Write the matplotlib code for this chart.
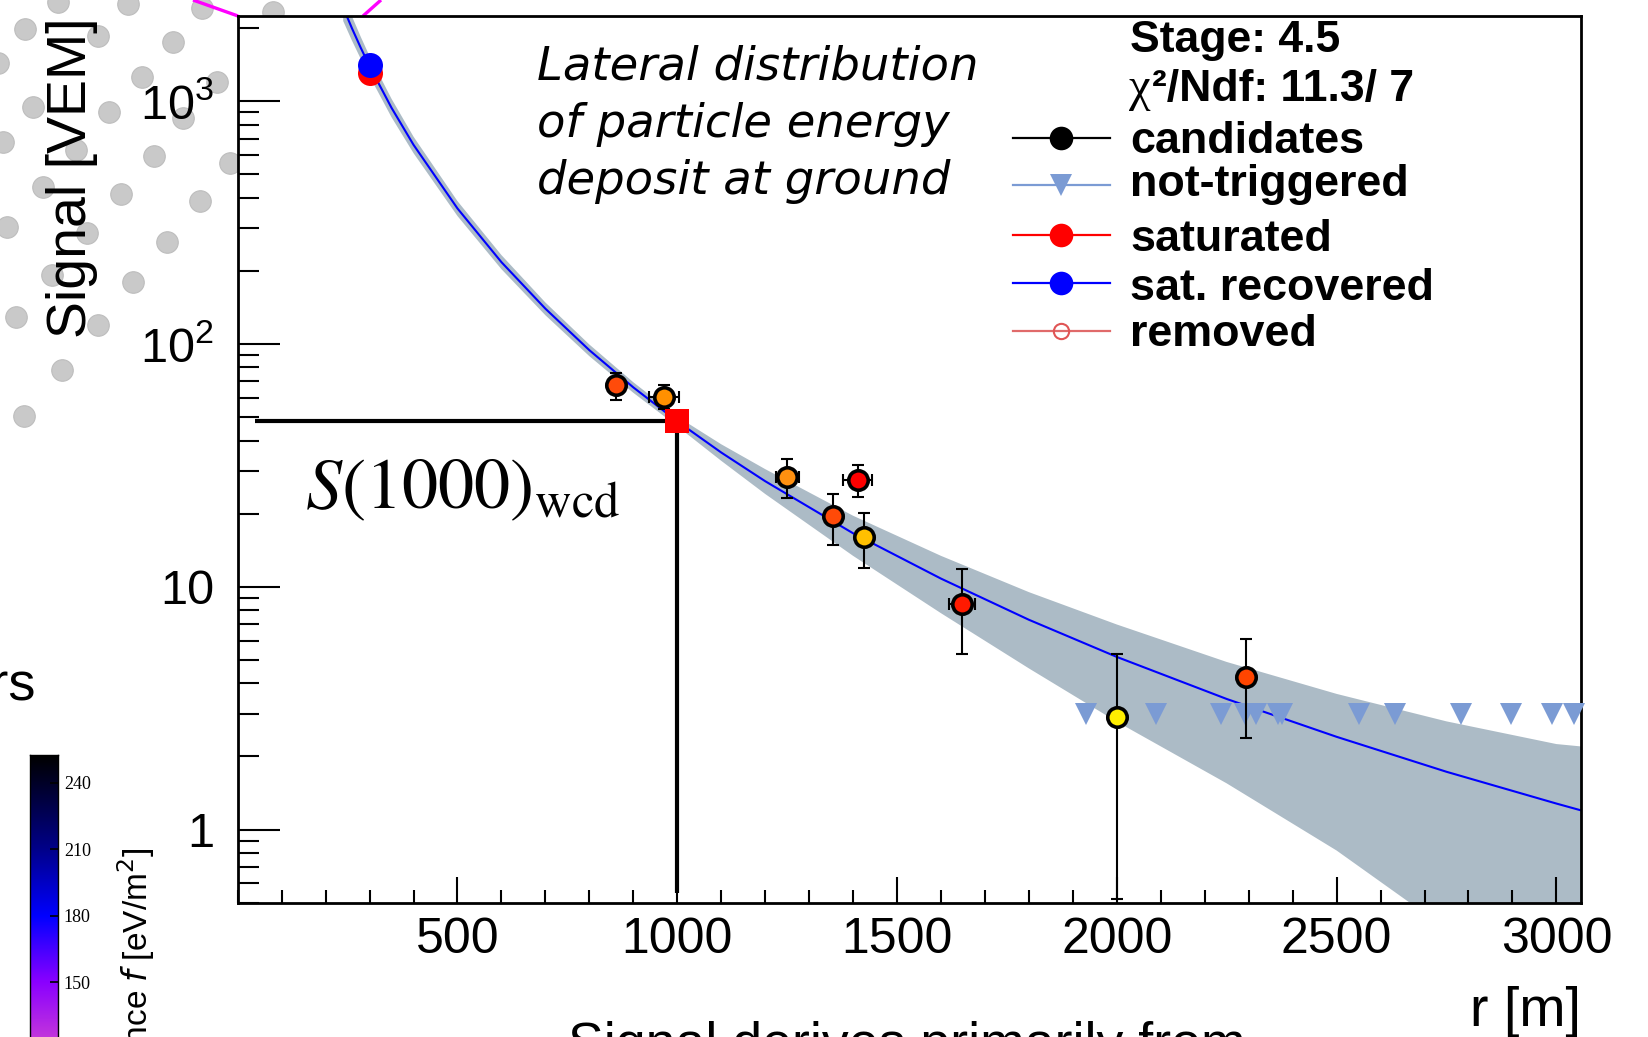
import numpy as np
import matplotlib
matplotlib.use('Agg')
import matplotlib.pyplot as plt
from matplotlib.colors import LinearSegmentedColormap
from matplotlib.lines import Line2D
from matplotlib.ticker import FixedLocator, MultipleLocator, LogLocator, NullFormatter

plt.rcParams['font.family'] = ['Liberation Sans', 'DejaVu Sans']

# ---------------- data ----------------
# fitted lateral distribution function and its uncertainty band
fit_r = [240, 260, 280, 300, 350, 400, 500, 600, 700, 800, 900, 1000, 1100, 1200,
         1400, 1600, 1800, 2000, 2250, 2500, 2750, 3000, 3056]
fit_s = [2424, 1991, 1655, 1391, 937, 660, 361, 217, 139.6, 94.2, 66.2, 48.0, 35.7, 27.2,
         16.6, 10.8, 7.31, 5.14, 3.45, 2.41, 1.73, 1.28, 1.20]
band_hi = [2740, 2230, 1837, 1530, 1021, 713, 387, 232, 148.0, 99.4, 69.5, 50.2, 38.6, 30.5,
           19.6, 13.4, 9.5, 6.99, 4.90, 3.62, 2.79, 2.25, 2.20]
band_lo = [2135, 1772, 1490, 1266, 857, 610, 336, 203, 131.2, 89.0, 62.9, 45.8, 33.0, 24.1,
           13.4, 7.78, 4.61, 2.78, 1.55, 0.82, 0.39, 0.16, 0.12]

# candidate stations
cand_r = [860, 969, 1250, 1411, 1354, 1424, 1648, 2000, 2293]
cand_s = [67.4, 60.7, 28.3, 27.4, 19.5, 16.0, 8.52, 2.91, 4.26]
cand_s_hi = [76.0, 67.6, 33.6, 31.6, 24.0, 20.1, 11.8, 5.27, 6.12]
cand_s_lo = [58.5, 54.0, 23.3, 23.4, 14.9, 11.9, 5.27, 0.52, 2.39]
cand_r_err = [0, 34, 26, 33, 0, 0, 30, 0, 0]
cand_colors = ['#ff4b0a', '#ff9000', '#ff9010', '#ff0000', '#ff4a08', '#ffc000',
               '#ff1a00', '#ffee00', '#ff4500']

# non-triggered stations
nt_r = [1930, 2089, 2237, 2292, 2316, 2367, 2376, 2552, 2633, 2783, 2897, 2989, 3041]
nt_s = [3.0] * len(nt_r)

# saturated / recovered station
sat_r = [300]
sat_s = [1310]
rec_r = [300]
rec_s = [1406]

# S(1000)
s1000_r = 1000
s1000_s = 48.0
s1000_line_start = 40
s1000_line_end = 0.55

x_ticks = [500, 1000, 1500, 2000, 2500, 3000]
y_ticks = [1, 10, 100, 1000]
y_ticklabels = ['1', '10', r'$\mathregular{10^{2}}$', r'$\mathregular{10^{3}}$']

legend_labels = ['candidates', 'not-triggered', 'saturated', 'sat. recovered', 'removed']

# neighbouring panel elements (figure pixel coordinates)
dot_x = [58, 128, 202, 273, 25, 98, 173, -2, 142, 217, 33, 109, 183, 3, 76, 154, 230,
         43, 121, 200, 7, 87, 167, 52, 133, 16, 98, 62, 24]
dot_y = [2, 4, 8, 12, 29, 36, 42, 63, 77, 82, 107, 112, 118, 142, 150, 156, 163,
         187, 194, 201, 227, 233, 242, 275, 282, 317, 325, 370, 416]
mag_seg1_x = [193, 238]
mag_seg1_y = [0, 16]
mag_seg2_x = [363, 381]
mag_seg2_y = [16, 0]
cbar_ticks = [150, 180, 210, 240]
cbar_range = [96.9, 252.5]

# ---------------- figure ----------------
W, H = 1649, 1037
fig = plt.figure(figsize=(W / 100, H / 100), dpi=100)


def fx(px):
    return px / W


def fy(py):
    return 1 - py / H


# background layer
bg = fig.add_axes([0, 0, 1, 1], zorder=0)
bg.set_xlim(0, W)
bg.set_ylim(H, 0)
bg.axis('off')
bg.scatter(dot_x, dot_y, s=15.5 ** 2, color='#c9c9c9', edgecolors='#bdbdbd', linewidths=0.8)
bg.plot(mag_seg1_x, mag_seg1_y, color='#ff00ff', lw=2.4, solid_capstyle='butt')
bg.plot(mag_seg2_x, mag_seg2_y, color='#ff00ff', lw=2.4, solid_capstyle='butt')

# main axes
ax_l, ax_r, ax_t, ax_b = 237.7, 1581.0, 15.7, 902.7
ax = fig.add_axes([fx(ax_l), fy(ax_b), (ax_r - ax_l) / W, (ax_b - ax_t) / H], zorder=1)
ax.set_facecolor('white')
ax.set_yscale('log')
ax.set_xlim(0, 3056)
ax.set_ylim(0.5, 2245)

ax.fill_between(fit_r, band_lo, band_hi, color='#acbbc6', lw=0, zorder=1)
ax.plot(fit_r, fit_s, color='#0000ff', lw=1.5, zorder=2)

# S(1000) lines
ax.plot([s1000_line_start, s1000_r], [s1000_s, s1000_s], color='black', lw=3.0, zorder=3,
        solid_capstyle='butt')
ax.plot([s1000_r, s1000_r], [s1000_s, s1000_line_end], color='black', lw=3.0, zorder=3,
        solid_capstyle='butt')
ax.plot([s1000_r], [s1000_s], 's', color='#ff0000', ms=17, mew=0, zorder=6)

# not-triggered
ax.plot(nt_r, nt_s, 'v', color='#7b9bd4', ms=16, mew=0, ls='none', zorder=4, clip_on=False)

# candidates with errors
yerr = [np.array(cand_s) - np.array(cand_s_lo), np.array(cand_s_hi) - np.array(cand_s)]
ax.errorbar(cand_r, cand_s, yerr=yerr, xerr=cand_r_err, fmt='none', ecolor='black',
            elinewidth=1.5, capsize=4, capthick=1.5, zorder=4)
for r, s, c in zip(cand_r, cand_s, cand_colors):
    ax.plot([r], [s], 'o', mfc=c, mec='black', ms=14, mew=2.6, zorder=5)

# saturated and recovered
ax.plot(sat_r, sat_s, 'o', color='#ff0000', ms=18, mew=0, zorder=5)
ax.plot(rec_r, rec_s, 'o', color='#0000ff', ms=18, mew=0, zorder=5)

# axes styling
for sp in ax.spines.values():
    sp.set_linewidth(2.0)
ax.xaxis.set_major_locator(FixedLocator(x_ticks))
ax.xaxis.set_minor_locator(MultipleLocator(100))
ax.yaxis.set_major_locator(FixedLocator(y_ticks))
ax.set_yticklabels(y_ticklabels)
ax.yaxis.set_minor_locator(LogLocator(base=10, subs=np.arange(2, 10)))
ax.yaxis.set_minor_formatter(NullFormatter())
ax.tick_params(axis='both', which='both', direction='in', top=False, right=False, width=1.5,
               labelsize=35)
ax.tick_params(axis='x', which='major', labelsize=36)
ax.tick_params(axis='y', which='major', length=30, pad=17)
ax.tick_params(axis='y', which='minor', length=15)
ax.tick_params(axis='x', which='major', length=19, pad=10.5)
ax.tick_params(axis='x', which='minor', length=9.5)

ax.text(154, 21.0, r'$S(1000)_{\mathrm{wcd}}$', math_fontfamily='stix', fontsize=52,
        va='baseline', ha='left', zorder=7)

# axis titles
fig.text(fx(72), fy(17), 'Signal [VEM]', rotation=90, ha='center', va='top', fontsize=40)
fig.text(fx(ax_r), fy(1026), 'r [m]', ha='right', va='baseline', fontsize=40)

# annotation text
for i, line in enumerate(['Lateral distribution', 'of particle energy', 'deposit at ground']):
    fig.text(fx(536.7), fy([79, 137, 194][i]), line, family='DejaVu Sans', style='italic',
             fontsize=33.5, va='baseline', ha='left')

# legend block
tx = 1130
fig.text(fx(tx), fy(52), 'Stage: 4.5', fontsize=32, fontweight='bold', va='baseline')
fig.text(fx(tx - 1), fy(101), '\u03c7', family='Liberation Serif', fontsize=35,
         va='baseline')
fig.text(fx(tx + 22), fy(101), '\u00b2/Ndf: 11.3/ 7', fontsize=32, fontweight='bold',
         va='baseline')
leg_y = [137.5, 185, 234.5, 283, 331]
leg_text_y = [153, 196, 251, 300, 346]
leg_style = [
    dict(color='black', marker='o', ms=17, mfc='black', mec='black', mew=0),
    dict(color='#7b9bd4', marker='v', ms=16, mfc='#7b9bd4', mec='#7b9bd4', mew=0),
    dict(color='#ff0000', marker='o', ms=17, mfc='#ff0000', mec='#ff0000', mew=0),
    dict(color='#0000ff', marker='o', ms=17, mfc='#0000ff', mec='#0000ff', mew=0),
    dict(color='#e06a6a', marker='o', ms=11, mfc='none', mec='#e05555', mew=1.5),
]
for ly, ty, lab, st in zip(leg_y, leg_text_y, legend_labels, leg_style):
    fig.add_artist(Line2D([fx(1013), fx(1109.5)], [fy(ly), fy(ly)], transform=fig.transFigure,
                          color=st['color'], lw=1.6, zorder=5))
    fig.add_artist(Line2D([fx(1061)], [fy(ly)], transform=fig.transFigure, ls='none',
                          marker=st['marker'], ms=st['ms'], mfc=st['mfc'], mec=st['mec'],
                          mew=st['mew'], zorder=6))
    fig.text(fx(tx), fy(ty), lab, fontsize=32.3, fontweight='bold', va='baseline')

# neighbouring panel fragments
fig.text(fx(36), fy(700), 'detectors', fontsize=39, ha='right', va='baseline')
fig.text(fx(568), fy(1060), 'Signal derives primarily from', fontsize=38.6, ha='left',
         va='baseline')

cmap = LinearSegmentedColormap.from_list('fluence', [
    (0.0, '#e060d8'), ((125 - 96.9) / 155.6, '#c235dc'), ((150 - 96.9) / 155.6, '#8a00ff'),
    ((180 - 96.9) / 155.6, '#0000ff'), ((210 - 96.9) / 155.6, '#00008a'),
    ((240 - 96.9) / 155.6, '#000028'), (1.0, '#000000')])
cax = fig.add_axes([fx(30), fy(1100), 28.3 / W, 345 / H], zorder=2)
grad = np.linspace(cbar_range[0], cbar_range[1], 256).reshape(-1, 1)
cax.imshow(grad, aspect='auto', cmap=cmap, origin='lower',
           extent=[0, 1, cbar_range[0], cbar_range[1]])
cax.set_xlim(0, 1)
cax.set_ylim(*cbar_range)
cax.set_xticks([])
cax.yaxis.tick_right()
cax.set_yticks(cbar_ticks)
cax.tick_params(axis='y', direction='in', length=6, width=1.2, pad=4, labelsize=13)
for lab in cax.get_yticklabels():
    lab.set_family('Liberation Serif')
for sp in cax.spines.values():
    sp.set_linewidth(1.0)
fig.text(fx(136), fy(848), r'Energy fluence $f$ [eV/m$^2$]', rotation=90, ha='center',
         va='top', fontsize=24)

fig.savefig('out.png', dpi=100)
